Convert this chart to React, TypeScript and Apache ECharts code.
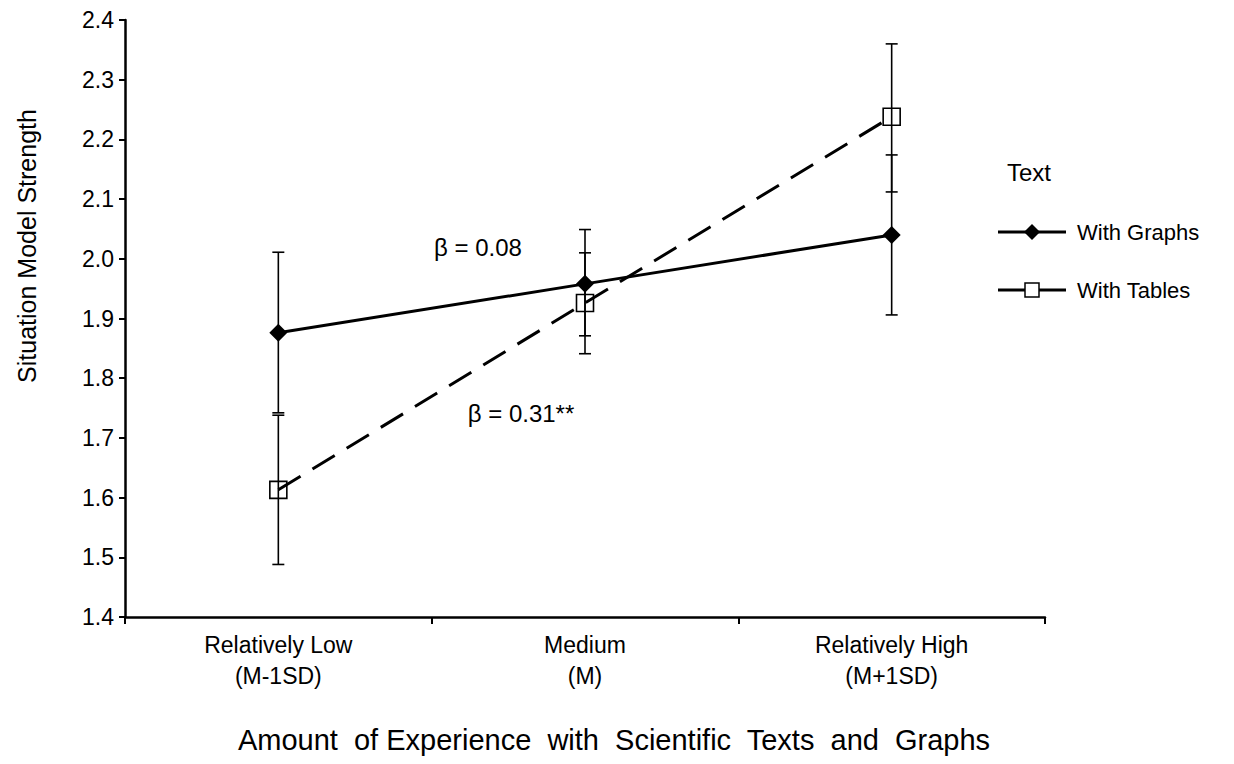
import React, { useEffect, useRef } from "react";
import * as echarts from "echarts";

const categories = ["Relatively Low\n(M-1SD)", "Medium\n(M)", "Relatively High\n(M+1SD)"];
const graphsMean = [1.876, 1.958, 2.04];
const graphsLow = [1.742, 1.871, 1.906];
const graphsHigh = [2.011, 2.049, 2.174];
const tablesMean = [1.613, 1.926, 2.238];
const tablesLow = [1.488, 1.841, 2.112];
const tablesHigh = [1.738, 2.01, 2.36];
const yTicks = { min: 1.4, max: 2.4, interval: 0.1 };

const FONT = "'Liberation Sans', Arial, sans-serif";

export default function App() {
  const ref = useRef<HTMLDivElement>(null);
  useEffect(() => {
    if (!ref.current) return;
    const chart = echarts.init(ref.current, null, { renderer: "svg" });
    const errData = (lo: number[], hi: number[]) => lo.map((l, i) => [i, l, hi[i]]);
    const renderErr = (params: any, api: any) => {
      const x = api.value(0);
      const top = api.coord([x, api.value(2)]);
      const bot = api.coord([x, api.value(1)]);
      const w = 6;
      const st = { stroke: "#000", lineWidth: 1.6 };
      return {
        type: "group",
        children: [
          { type: "line", shape: { x1: top[0], y1: top[1], x2: bot[0], y2: bot[1] }, style: st },
          { type: "line", shape: { x1: top[0] - w, y1: top[1], x2: top[0] + w, y2: top[1] }, style: st },
          { type: "line", shape: { x1: bot[0] - w, y1: bot[1], x2: bot[0] + w, y2: bot[1] }, style: st },
        ],
      };
    };
    chart.setOption({
      animation: false,
      backgroundColor: "#fff",
      grid: { left: 125, right: 189, top: 20, bottom: 147 },
      xAxis: {
        type: "category",
        data: categories,
        boundaryGap: true,
        axisLine: { lineStyle: { color: "#000", width: 2.5 } },
        axisTick: { show: true, length: 7, inside: false, lineStyle: { color: "#000", width: 2 } },
        axisLabel: { color: "#000", fontFamily: FONT, fontSize: 23, lineHeight: 31, margin: 12 },
      },
      yAxis: {
        type: "value",
        min: yTicks.min,
        max: yTicks.max,
        interval: yTicks.interval,
        splitLine: { show: false },
        axisLine: { show: true, lineStyle: { color: "#000", width: 2.5 } },
        axisTick: { show: true, length: 6, lineStyle: { color: "#000", width: 2 } },
        axisLabel: {
          color: "#000",
          fontFamily: FONT,
          fontSize: 23,
          margin: 11,
          formatter: (v: number) => v.toFixed(1),
        },
      },
      series: [
        {
          type: "custom",
          name: "errGraphs",
          renderItem: renderErr,
          data: errData(graphsLow, graphsHigh),
          z: 1,
        },
        {
          type: "custom",
          name: "errTables",
          renderItem: renderErr,
          data: errData(tablesLow, tablesHigh),
          z: 1,
        },
        {
          type: "line",
          name: "With Graphs",
          data: graphsMean,
          symbol: "diamond",
          symbolSize: 18,
          lineStyle: { color: "#000", width: 3 },
          itemStyle: { color: "#000" },
          z: 3,
        },
        {
          type: "line",
          name: "With Tables",
          data: tablesMean,
          symbol: "rect",
          symbolSize: 17,
          lineStyle: { color: "#000", width: 3, type: [26, 14] },
          itemStyle: { color: "rgba(0,0,0,0)", borderColor: "#000", borderWidth: 1.6 },
          z: 3,
        },
      ],
      graphic: [
        {
          type: "text",
          x: 27,
          y: 246,
          rotation: Math.PI / 2,
          style: { text: "Situation Model Strength", font: `25px ${FONT}`, fill: "#000", align: "center", verticalAlign: "middle" },
        },
        {
          type: "text",
          x: 614,
          y: 740,
          style: { text: "Amount  of Experience  with  Scientific  Texts  and  Graphs", font: `29px ${FONT}`, fill: "#000", align: "center", verticalAlign: "middle" },
        },
        {
          type: "text",
          x: 478,
          y: 247,
          style: { text: "β = 0.08", font: `24px ${FONT}`, fill: "#000", align: "center", verticalAlign: "middle" },
        },
        {
          type: "text",
          x: 521,
          y: 413,
          style: { text: "β = 0.31**", font: `24px ${FONT}`, fill: "#000", align: "center", verticalAlign: "middle" },
        },
        {
          type: "text",
          x: 1007,
          y: 172,
          style: { text: "Text", font: `24px ${FONT}`, fill: "#000", align: "left", verticalAlign: "middle" },
        },
        { type: "line", shape: { x1: 998, y1: 232, x2: 1066, y2: 232 }, style: { stroke: "#000", lineWidth: 3 } },
        { type: "polygon", shape: { points: [[1032, 224], [1040, 232], [1032, 240], [1024, 232]] }, style: { fill: "#000" } },
        {
          type: "text",
          x: 1077,
          y: 232,
          style: { text: "With Graphs", font: `22px ${FONT}`, fill: "#000", align: "left", verticalAlign: "middle" },
        },
        { type: "line", shape: { x1: 998, y1: 290, x2: 1066, y2: 290 }, style: { stroke: "#000", lineWidth: 3 } },
        { type: "rect", shape: { x: 1025, y: 283, width: 14, height: 14 }, style: { fill: "#fff", stroke: "#000", lineWidth: 1.5 } },
        {
          type: "text",
          x: 1077,
          y: 290,
          style: { text: "With Tables", font: `22px ${FONT}`, fill: "#000", align: "left", verticalAlign: "middle" },
        },
      ],
    });
    return () => chart.dispose();
  }, []);
  return <div ref={ref} style={{ position: "fixed", left: 0, top: 0, width: 1234, height: 764 }} />;
}
